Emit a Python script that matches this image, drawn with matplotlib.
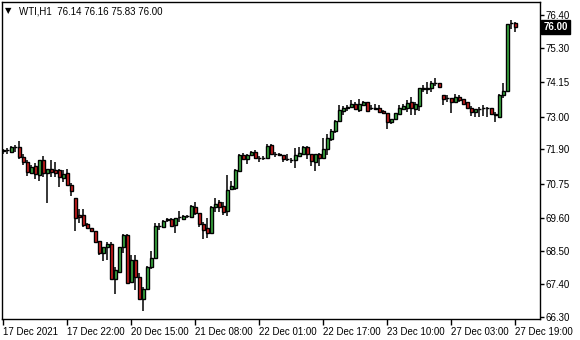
import numpy as np
import matplotlib
matplotlib.use("Agg")
import matplotlib.pyplot as plt
import matplotlib.transforms as mtransforms

plt.rcParams['font.family'] = ['Liberation Sans', 'DejaVu Sans']

# WTI H1 candles
opens = [71.86, 71.87, 71.81, 71.98, 71.98, 71.64, 71.48, 71.11, 71.34, 71.04,
         71.54, 71.11, 71.24, 71.21, 71.21, 70.94, 71.11, 70.71, 70.27, 69.70,
         69.70, 69.40, 69.27, 69.17, 68.83, 68.43, 68.63, 68.73, 67.56, 67.79,
         68.63, 69.03, 67.46, 68.20, 67.63, 66.89, 67.23, 67.96, 68.26, 69.33,
         69.30, 69.55, 69.57, 69.37, 69.64, 69.57, 69.66, 69.64, 69.97, 69.76,
         69.42, 69.26, 69.11, 69.97, 70.13, 70.00, 69.84, 70.57, 70.61, 71.19,
         71.71, 71.57, 71.73, 71.80, 71.62, 71.61, 71.62, 72.04, 71.75, 71.73,
         71.71, 71.58, 71.55, 71.56, 71.68, 71.76, 71.98, 71.76, 71.49, 71.76,
         71.62, 71.91, 72.24, 72.50, 72.84, 73.18, 73.28, 73.33, 73.42, 73.21,
         73.38, 73.47, 73.27, 73.26, 73.27, 73.18, 73.11, 72.82, 72.92, 73.10,
         73.25, 73.27, 73.47, 73.26, 73.36, 73.91, 73.91, 73.94, 74.11, 74.11,
         73.72, 73.61, 73.61, 73.47, 73.66, 73.58, 73.47, 73.29, 73.16, 73.25,
         73.27, 73.27, 73.27, 73.10, 72.99, 73.72, 73.85, 76.12, 76.14]
highs = [71.90, 71.94, 72.01, 72.05, 72.18, 71.74, 71.54, 71.37, 71.44, 71.54,
         71.67, 71.24, 71.54, 71.47, 71.24, 71.21, 71.24, 70.77, 70.27, 69.90,
         69.90, 69.43, 69.27, 69.17, 68.83, 68.63, 68.80, 68.80, 67.96, 68.63,
         69.06, 69.06, 68.36, 68.36, 67.76, 67.29, 68.00, 68.50, 69.43, 69.44,
         69.53, 69.61, 69.60, 69.60, 69.83, 69.70, 69.72, 70.04, 70.13, 69.78,
         69.48, 69.60, 70.00, 70.26, 70.20, 70.14, 71.04, 70.85, 71.24, 71.74,
         71.79, 71.74, 71.84, 71.88, 71.69, 71.67, 72.07, 72.08, 71.82, 71.78,
         71.71, 71.74, 71.62, 71.95, 71.98, 72.02, 72.01, 71.76, 71.74, 71.78,
         72.27, 72.43, 72.60, 72.88, 73.38, 73.35, 73.38, 73.55, 73.48, 73.57,
         73.52, 73.49, 73.38, 73.42, 73.38, 73.21, 73.13, 72.92, 73.13, 73.40,
         73.43, 73.55, 73.66, 73.47, 73.96, 74.05, 74.15, 74.19, 74.29, 74.11,
         73.72, 73.72, 73.61, 73.77, 73.72, 73.60, 73.47, 73.35, 73.25, 73.32,
         73.38, 73.32, 73.29, 73.16, 73.74, 74.11, 76.11, 76.22, 76.16]
lows = [71.74, 71.76, 71.77, 71.81, 71.57, 71.37, 71.01, 71.07, 70.91, 70.84,
        70.98, 70.10, 70.98, 70.98, 70.64, 70.81, 70.67, 70.33, 69.17, 69.43,
        69.30, 69.23, 69.13, 68.76, 68.36, 68.16, 68.20, 67.56, 67.06, 67.76,
        68.43, 67.43, 67.46, 67.19, 66.89, 66.50, 67.19, 67.89, 68.26, 69.22,
        69.27, 69.47, 69.33, 69.11, 69.47, 69.53, 69.61, 69.61, 69.70, 69.31,
        68.90, 68.94, 69.08, 69.81, 69.81, 69.70, 69.67, 70.54, 70.55, 71.17,
        71.56, 71.40, 71.69, 71.57, 71.49, 71.54, 71.60, 71.74, 71.65, 71.68,
        71.49, 71.51, 71.46, 71.29, 71.67, 71.73, 71.59, 71.34, 71.17, 71.35,
        71.57, 71.71, 72.17, 72.45, 72.81, 73.05, 73.18, 73.31, 73.21, 73.16,
        73.35, 73.19, 73.21, 73.21, 73.15, 73.08, 72.60, 72.74, 72.88, 73.10,
        73.21, 73.16, 73.05, 73.05, 73.17, 73.83, 73.77, 73.83, 74.02, 74.00,
        73.38, 73.48, 73.13, 73.47, 73.47, 73.41, 73.28, 73.01, 72.99, 72.99,
        73.01, 72.99, 73.05, 72.82, 72.96, 73.63, 73.84, 75.94, 75.83]
closes = [71.87, 71.88, 71.98, 71.99, 71.64, 71.48, 71.14, 71.31, 71.07, 71.54,
          71.11, 71.24, 71.14, 71.12, 70.98, 71.07, 70.71, 70.50, 69.60, 69.63,
          69.37, 69.27, 69.17, 68.80, 68.43, 68.63, 68.73, 67.56, 67.86, 68.63,
          69.03, 67.43, 68.20, 67.63, 66.89, 67.23, 67.96, 68.26, 69.33, 69.35,
          69.50, 69.56, 69.35, 69.60, 69.65, 69.67, 69.67, 70.00, 69.78, 69.42,
          69.22, 69.11, 69.97, 70.09, 69.98, 69.81, 70.56, 70.67, 71.21, 71.71,
          71.57, 71.73, 71.82, 71.60, 71.63, 71.62, 72.01, 71.76, 71.76, 71.74,
          71.58, 71.59, 71.56, 71.70, 71.78, 71.98, 71.76, 71.51, 71.74, 71.60,
          71.91, 72.27, 72.51, 72.84, 73.21, 73.29, 73.31, 73.42, 73.24, 73.42,
          73.49, 73.20, 73.28, 73.27, 73.16, 73.11, 72.82, 72.91, 73.12, 73.29,
          73.36, 73.44, 73.27, 73.42, 73.94, 73.97, 73.97, 74.11, 74.12, 74.00,
          73.57, 73.62, 73.49, 73.66, 73.55, 73.41, 73.29, 73.16, 73.25, 73.26,
          73.28, 73.28, 73.07, 73.05, 73.72, 73.85, 76.08, 76.14, 76.00]

ytick_vals = [76.40, 75.30, 74.15, 73.00, 71.90, 70.75, 69.60, 68.50, 67.40, 66.30]
xtick_bars = [0, 16, 32, 48, 64, 80, 96, 112, 128]
xtick_labels = ['17 Dec 2021', '17 Dec 22:00', '20 Dec 15:00', '21 Dec 08:00',
                '22 Dec 01:00', '22 Dec 17:00', '23 Dec 10:00', '27 Dec 03:00',
                '27 Dec 19:00']

o = np.array(opens)
h = np.array(highs)
l = np.array(lows)
c = np.array(closes)
x = np.arange(len(o))

fig = plt.figure(figsize=(5.8, 3.4), dpi=100)
ax = fig.add_axes([2 / 580, 21 / 340, 538 / 580, 317 / 340])
ax.set_xlim(-0.25, 134.25)
ax.set_ylim(66.23, 76.83)

ax.vlines(x, l, h, color='black', linewidth=1.1, zorder=2)
bottoms = np.minimum(o, c)
heights = np.maximum(np.abs(c - o), 0.004)
colors = np.where(c >= o, '#3cb043', '#d21f1f')
ax.bar(x, heights, bottom=bottoms, width=0.75, color=colors,
       edgecolor='black', linewidth=1.0, zorder=3)

for s in ax.spines.values():
    s.set_color('black')
    s.set_linewidth(1.0)

ax.yaxis.tick_right()
ax.set_yticks(ytick_vals)
ax.set_yticklabels(['%.2f' % v for v in ytick_vals])
ax.tick_params(axis='y', direction='out', length=3, width=1, pad=1,
               labelsize=7, colors='black')
ax.set_xticks(xtick_bars)
ax.set_xticklabels(xtick_labels)
ax.tick_params(axis='x', direction='out', length=4, width=1, pad=1.5,
               labelsize=7, colors='black')
for lbl in ax.get_xticklabels():
    lbl.set_horizontalalignment('left')

# last price tag on the price scale
trans = mtransforms.blended_transform_factory(ax.transAxes, ax.transData)
ax.text(1.006, closes[-1], '%.2f' % closes[-1], transform=trans, ha='left',
        va='center', color='white', fontsize=7, fontweight='bold',
        bbox=dict(boxstyle='square,pad=0.2', fc='black', ec='black'),
        clip_on=False)

fig.text(5 / 580, 1 - 11 / 340, '\u25bc', fontsize=6, va='center',
         family=['DejaVu Sans'])
fig.text(19 / 580, 1 - 11 / 340,
         'WTI,H1  %.2f %.2f %.2f %.2f' % (opens[-1], highs[-1], lows[-1], closes[-1]),
         fontsize=7, va='center')

fig.savefig('out.png', dpi=100, facecolor='white')
